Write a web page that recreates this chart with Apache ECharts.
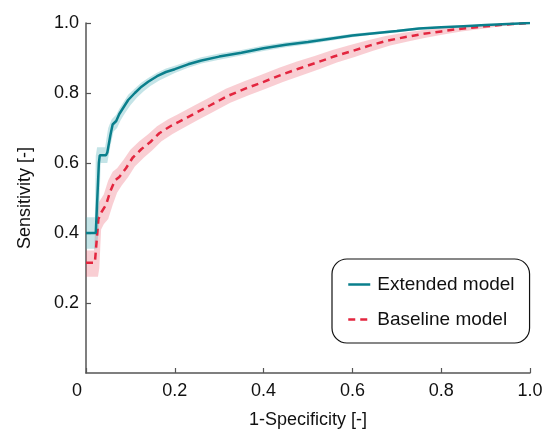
<!DOCTYPE html>
<html>
<head>
<meta charset="utf-8">
<script src="https://cdn.jsdelivr.net/npm/echarts@6/dist/echarts.min.js"></script>
<style>html,body{margin:0;padding:0;background:#fff;}#c{width:546px;height:434px;}</style>
</head>
<body>
<div id="c"></div>
<script>
var xTicks = [0, 0.2, 0.4, 0.6, 0.8, 1.0];
var yTicks = [0.2, 0.4, 0.6, 0.8, 1.0];

var extendedCurve = [[0,0.40],[0.022,0.40],[0.026,0.405],[0.029,0.60],[0.031,0.622],[0.045,0.622],[0.048,0.63],[0.055,0.68],[0.06,0.71],[0.068,0.72],[0.075,0.74],[0.085,0.76],[0.095,0.78],[0.11,0.80],[0.125,0.818],[0.14,0.832],[0.16,0.848],[0.18,0.86],[0.2,0.868],[0.23,0.882],[0.26,0.893],[0.3,0.904],[0.35,0.915],[0.4,0.928],[0.45,0.938],[0.5,0.946],[0.55,0.955],[0.6,0.964],[0.65,0.971],[0.7,0.977],[0.75,0.984],[0.8,0.988],[0.85,0.991],[0.9,0.994],[0.95,0.997],[1.0,1.0]];
var extendedUpper = [[0,0.445],[0.02,0.445],[0.022,0.62],[0.025,0.645],[0.043,0.645],[0.05,0.70],[0.058,0.725],[0.068,0.738],[0.075,0.755],[0.085,0.775],[0.095,0.795],[0.11,0.813],[0.125,0.83],[0.14,0.843],[0.16,0.858],[0.18,0.87],[0.2,0.878],[0.23,0.891],[0.26,0.902],[0.3,0.913],[0.35,0.923],[0.4,0.936],[0.45,0.945],[0.5,0.953],[0.55,0.961],[0.6,0.969],[0.65,0.975],[0.7,0.981],[0.75,0.987],[0.8,0.991],[0.85,0.993],[0.9,0.996],[0.95,0.998],[1.0,1.0]];
var extendedLower = [[0,0.355],[0.024,0.355],[0.028,0.40],[0.033,0.60],[0.048,0.60],[0.055,0.65],[0.062,0.69],[0.07,0.70],[0.078,0.722],[0.088,0.743],[0.1,0.765],[0.115,0.787],[0.13,0.805],[0.145,0.82],[0.165,0.836],[0.185,0.848],[0.2,0.857],[0.23,0.872],[0.26,0.884],[0.3,0.895],[0.35,0.907],[0.4,0.92],[0.45,0.931],[0.5,0.939],[0.55,0.949],[0.6,0.959],[0.65,0.967],[0.7,0.973],[0.75,0.981],[0.8,0.985],[0.85,0.989],[0.9,0.992],[0.95,0.996],[1.0,1.0]];

var baselineCurve = [[0,0.315],[0.02,0.315],[0.023,0.32],[0.028,0.44],[0.035,0.46],[0.045,0.48],[0.055,0.52],[0.065,0.55],[0.075,0.56],[0.09,0.585],[0.105,0.615],[0.125,0.64],[0.145,0.66],[0.165,0.685],[0.19,0.705],[0.21,0.718],[0.25,0.745],[0.28,0.765],[0.32,0.792],[0.36,0.813],[0.4,0.832],[0.44,0.852],[0.48,0.87],[0.52,0.887],[0.56,0.905],[0.6,0.92],[0.64,0.936],[0.68,0.95],[0.72,0.96],[0.76,0.969],[0.8,0.976],[0.84,0.983],[0.88,0.988],[0.92,0.993],[0.96,0.997],[1.0,1.0]];
var baselineUpper = [[0,0.35],[0.018,0.35],[0.022,0.44],[0.03,0.49],[0.04,0.51],[0.05,0.55],[0.06,0.575],[0.07,0.585],[0.085,0.61],[0.1,0.638],[0.12,0.662],[0.14,0.682],[0.16,0.705],[0.185,0.725],[0.205,0.738],[0.245,0.765],[0.275,0.785],[0.315,0.812],[0.355,0.833],[0.395,0.852],[0.435,0.872],[0.475,0.89],[0.515,0.906],[0.555,0.923],[0.595,0.937],[0.635,0.951],[0.675,0.963],[0.715,0.972],[0.755,0.979],[0.795,0.985],[0.84,0.99],[0.88,0.994],[0.92,0.997],[0.96,0.999],[1.0,1.0]];
var baselineLower = [[0,0.275],[0.027,0.275],[0.03,0.30],[0.034,0.41],[0.04,0.425],[0.05,0.44],[0.06,0.48],[0.07,0.515],[0.08,0.535],[0.095,0.56],[0.11,0.59],[0.13,0.615],[0.15,0.637],[0.17,0.662],[0.195,0.683],[0.215,0.697],[0.255,0.725],[0.285,0.745],[0.325,0.772],[0.365,0.793],[0.405,0.812],[0.445,0.832],[0.485,0.85],[0.525,0.868],[0.565,0.887],[0.605,0.903],[0.645,0.92],[0.685,0.936],[0.725,0.947],[0.765,0.958],[0.805,0.967],[0.845,0.976],[0.885,0.982],[0.925,0.989],[0.965,0.995],[1.0,1.0]];

var FONT = 'Liberation Sans, Arial, sans-serif';

function bandSeries(upper, lower, fill) {
  return {
    type: 'custom',
    coordinateSystem: 'cartesian2d',
    silent: true,
    data: [[0, 0]],
    encode: {x: 0, y: 1},
    z: 1,
    renderItem: function (params, api) {
      var pts = [];
      for (var i = 0; i < upper.length; i++) pts.push(api.coord(upper[i]));
      for (var j = lower.length - 1; j >= 0; j--) pts.push(api.coord(lower[j]));
      return {type: 'polygon', shape: {points: pts}, style: {fill: fill, stroke: null}};
    }
  };
}

var chart = echarts.init(document.getElementById('c'), null, {renderer: 'canvas'});
chart.setOption({
  animation: false,
  backgroundColor: '#ffffff',
  grid: {left: 86, right: 16, top: 23, bottom: 59, containLabel: false},
  xAxis: {
    type: 'value', min: 0, max: 1, interval: 0.2,
    name: '1-Specificity [-]', nameLocation: 'middle', nameGap: 38,
    nameTextStyle: {fontFamily: FONT, fontSize: 18, color: '#111'},
    axisLine: {show: true, lineStyle: {color: '#555', width: 1.5}},
    axisTick: {show: true, inside: true, length: 5, lineStyle: {color: '#555', width: 1.2}},
    splitLine: {show: false},
    axisLabel: {
      fontFamily: FONT, fontSize: 18, color: '#111', margin: 9,
      formatter: function (v) {
        if (v === 0) return '{z|0}';
        return v.toFixed(1);
      },
      rich: {z: {fontFamily: FONT, fontSize: 18, color: '#111', padding: [0, 18, 0, 0]}}
    }
  },
  yAxis: {
    type: 'value', min: 0, max: 1, interval: 0.2,
    name: 'Sensitivity [-]', nameLocation: 'middle', nameGap: 52, nameRotate: 90,
    nameTextStyle: {fontFamily: FONT, fontSize: 18, color: '#111'},
    axisLine: {show: true, lineStyle: {color: '#555', width: 1.5}},
    axisTick: {show: true, inside: true, length: 5, lineStyle: {color: '#555', width: 1.2}},
    splitLine: {show: false},
    axisLabel: {
      fontFamily: FONT, fontSize: 18, color: '#111', margin: 7, showMinLabel: false,
      formatter: function (v) { return v === 0 ? '' : v.toFixed(1); }
    }
  },
  legend: {
    orient: 'vertical', left: 332, top: 259,
    padding: [16, 15, 14, 15],
    itemGap: 16, itemWidth: 22, itemHeight: 18,
    borderColor: '#111', borderWidth: 1.2, borderRadius: 15,
    backgroundColor: '#fff',
    itemStyle: {opacity: 0, borderWidth: 0},
    lineStyle: {width: 2.5},
    textStyle: {fontFamily: FONT, fontSize: 19, color: '#111', padding: [0, 0, 0, 2]},
    data: ['Extended model', 'Baseline model']
  },
  series: [
    bandSeries(baselineUpper, baselineLower, 'rgba(230,60,80,0.25)'),
    bandSeries(extendedUpper, extendedLower, 'rgba(70,170,180,0.32)'),
    {
      name: 'Baseline model', type: 'line', data: baselineCurve, symbol: 'none', z: 3,
      lineStyle: {color: '#e3263f', width: 2.5, type: [7, 5]}, itemStyle: {color: '#e3263f'}
    },
    {
      name: 'Extended model', type: 'line', data: extendedCurve, symbol: 'none', z: 4,
      lineStyle: {color: '#0a7f8c', width: 2.5}, itemStyle: {color: '#0a7f8c'}
    }
  ]
});
</script>
</body>
</html>
